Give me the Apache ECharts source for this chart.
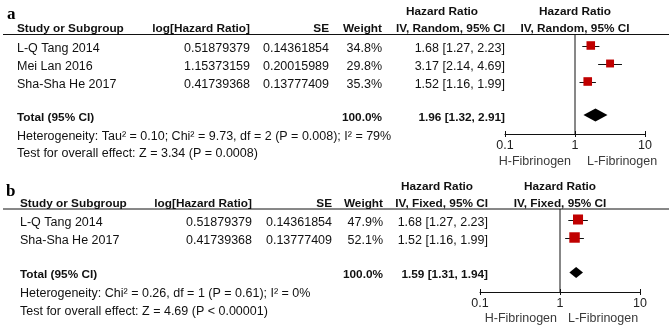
<!DOCTYPE html>
<html><head><meta charset="utf-8">
<script src="https://cdn.jsdelivr.net/npm/echarts@6/dist/echarts.min.js"></script>
<style>html,body{margin:0;padding:0;background:#fff}#c{width:669px;height:329px}</style>
</head><body><div id="c"></div>
<script>
// ---------- data ----------
const panelLetters = ['a', 'b'];
const headerStudy = 'Study or Subgroup';
const headerLog = 'log[Hazard Ratio]';
const headerSE = 'SE';
const headerWeight = 'Weight';
const headerHR = 'Hazard Ratio';
const methodA = 'IV, Random, 95% CI';
const methodB = 'IV, Fixed, 95% CI';

const studiesA = ['L-Q Tang 2014', 'Mei Lan 2016', 'Sha-Sha He 2017'];
const logHrA = ['0.51879379', '1.15373159', '0.41739368'];
const seA = ['0.14361854', '0.20015989', '0.13777409'];
const weightA = [34.8, 29.8, 35.3];
const hrA = [1.68, 3.17, 1.52];
const lowA = [1.27, 2.14, 1.16];
const highA = [2.23, 4.69, 1.99];
const totalA = [1.96, 1.32, 2.91];
const hetA = 'Heterogeneity: Tau\u00b2 = 0.10; Chi\u00b2 = 9.73, df = 2 (P = 0.008); I\u00b2 = 79%';
const testA = 'Test for overall effect: Z = 3.34 (P = 0.0008)';

const studiesB = ['L-Q Tang 2014', 'Sha-Sha He 2017'];
const logHrB = ['0.51879379', '0.41739368'];
const seB = ['0.14361854', '0.13777409'];
const weightB = [47.9, 52.1];
const hrB = [1.68, 1.52];
const lowB = [1.27, 1.16];
const highB = [2.23, 1.99];
const totalB = [1.59, 1.31, 1.94];
const hetB = 'Heterogeneity: Chi\u00b2 = 0.26, df = 1 (P = 0.61); I\u00b2 = 0%';
const testB = 'Test for overall effect: Z = 4.69 (P < 0.00001)';

const totalLabel = 'Total (95% CI)';
const totalWeight = '100.0%';
const nullEffect = 1;
const axisTicks = [0.1, 1, 10];
const axisTickLabels = ['0.1', '1', '10'];
const favourLeft = 'H-Fibrinogen';
const favourRight = 'L-Fibrinogen';

// ---------- layout ----------
const ROW_PX = 18;
const layouts = [
  { gridLeft: 505, gridWidth: 140, gridTop: 34, gridHeight: 100, row0: 11.5, totalRow: 3.86,
    colStudy: 17, colLog: 250, colSE: 329, colWeight: 382, colHR: 505, hrHeaderCenter: 442,
    forestCenter: 575, header1Y: 12, header2Y: 29, lineY: 34.5, letterX: 7, letterY: 14.5,
    favY: 162, favLeftRight: 571, favRightLeft: 587, diamondHalf: 6.5, sqK: 1.45 },
  { gridLeft: 480, gridWidth: 160, gridTop: 209, gridHeight: 83, row0: 10.5, totalRow: 2.94,
    colStudy: 20, colLog: 252, colSE: 332, colWeight: 383, colHR: 488, hrHeaderCenter: 437,
    forestCenter: 560, header1Y: 187, header2Y: 204, lineY: 209, letterX: 6, letterY: 191.5,
    favY: 318.5, favLeftRight: 557, favRightLeft: 568, diamondHalf: 5.5, sqK: 1.45 }
];

const panels = [
  { studies: studiesA, logHr: logHrA, se: seA, weight: weightA, hr: hrA, low: lowA, high: highA,
    total: totalA, het: hetA, test: testA, method: methodA },
  { studies: studiesB, logHr: logHrB, se: seB, weight: weightB, hr: hrB, low: lowB, high: highB,
    total: totalB, het: hetB, test: testB, method: methodB }
];

const FONT = '"Liberation Sans", Arial, sans-serif';
const REG = '12.5px ' + FONT;
const BOLD = 'bold 11.8px ' + FONT;
const TXT = '#111';

const fmtCI = (v, l, h) => v.toFixed(2) + ' [' + l.toFixed(2) + ', ' + h.toFixed(2) + ']';

const chart = echarts.init(document.getElementById('c'), null, { renderer: 'canvas' });

const grids = [], xAxes = [], yAxes = [], series = [];
layouts.forEach((L, p) => {
  grids.push({ left: L.gridLeft, top: L.gridTop, width: L.gridWidth, height: L.gridHeight, containLabel: false });
  const yMin = -L.row0 / ROW_PX;
  yAxes.push({ type: 'value', gridIndex: p, inverse: true, min: yMin, max: yMin + L.gridHeight / ROW_PX, show: false });
  const tickFmt = v => { const i = axisTicks.findIndex(t => Math.abs(t - v) < 1e-9); return i >= 0 ? axisTickLabels[i] : ''; };
  xAxes.push({ type: 'log', logBase: 10, gridIndex: p, min: 0.1, max: 10, position: 'bottom',
    axisLine: { show: true, onZero: false, lineStyle: { color: '#111', width: 1 } },
    axisTick: { show: true, length: 3, lineStyle: { color: '#111', width: 1 } },
    axisLabel: { show: true, formatter: tickFmt, color: '#222', fontSize: 12.5, fontFamily: FONT, margin: 5 },
    splitLine: { show: false } });
  xAxes.push({ type: 'log', logBase: 10, gridIndex: p, min: 0.1, max: 10, position: 'bottom',
    axisLine: { show: false, onZero: false }, axisTick: { show: true, inside: true, length: 3, lineStyle: { color: '#111', width: 1 } },
    axisLabel: { show: false }, splitLine: { show: false } });
});

panels.forEach((P, p) => {
  const L = layouts[p];
  const yAx = yAxes[p];
  // vertical line of no effect
  series.push({
    type: 'line', xAxisIndex: p * 2, yAxisIndex: p, silent: true, symbol: 'none',
    data: [[nullEffect, yAx.min], [nullEffect, yAx.max]],
    lineStyle: { color: '#111', width: 1 }
  });
  const studyData = P.studies.map((s, i) => [P.hr[i], i, P.low[i], P.high[i], P.weight[i]]);
  series.push({
    type: 'custom', xAxisIndex: p * 2, yAxisIndex: p, data: studyData,
    encode: { x: [0, 2, 3], y: 1 }, silent: true,
    renderItem: (params, api) => {
      const c = api.coord([api.value(0), api.value(1)]);
      const lo = api.coord([api.value(2), api.value(1)]);
      const hi = api.coord([api.value(3), api.value(1)]);
      const s = Math.sqrt(api.value(4)) * L.sqK;
      const y = Math.round(c[1]) + 0.5;
      return { type: 'group', children: [
        { type: 'line', shape: { x1: lo[0], y1: y, x2: hi[0], y2: y }, style: { stroke: '#111', lineWidth: 1 } },
        { type: 'rect', shape: { x: c[0] - s / 2, y: c[1] - s / 2, width: s, height: s }, style: { fill: '#C00000' } }
      ] };
    }
  });
  series.push({
    type: 'custom', xAxisIndex: p * 2, yAxisIndex: p, silent: true,
    data: [[P.total[0], L.totalRow, P.total[1], P.total[2]]],
    encode: { x: [0, 2, 3], y: 1 },
    renderItem: (params, api) => {
      const c = api.coord([api.value(0), api.value(1)]);
      const lo = api.coord([api.value(2), api.value(1)]);
      const hi = api.coord([api.value(3), api.value(1)]);
      const h = L.diamondHalf;
      return { type: 'polygon', shape: { points: [[lo[0], c[1]], [c[0], c[1] - h], [hi[0], c[1]], [c[0], c[1] + h]] },
        style: { fill: '#000' } };
    }
  });
});

chart.setOption({ animation: false, backgroundColor: '#fff', grid: grids, xAxis: xAxes, yAxis: yAxes, series: series });

// ---------- table text ----------
const graphics = [];
function txt(text, x, y, font, align, fill) {
  graphics.push({ type: 'text', silent: true, style: { text: text, x: x, y: y, font: font,
    textAlign: align, align: align, textVerticalAlign: 'middle', verticalAlign: 'middle', fill: fill || TXT } });
}
panels.forEach((P, p) => {
  const L = layouts[p];
  const rowY = r => chart.convertToPixel({ yAxisIndex: p }, r) + 2.7;
  txt(panelLetters[p], L.letterX, L.letterY, 'bold 17px "Liberation Serif", "Times New Roman", serif', 'left', '#000');
  txt(headerStudy, L.colStudy, L.header2Y, BOLD, 'left');
  txt(headerLog, L.colLog, L.header2Y, BOLD, 'right');
  txt(headerSE, L.colSE, L.header2Y, BOLD, 'right');
  txt(headerWeight, L.colWeight, L.header2Y, BOLD, 'right');
  txt(headerHR, L.hrHeaderCenter, L.header1Y, BOLD, 'center');
  txt(P.method, L.colHR, L.header2Y, BOLD, 'right');
  txt(headerHR, L.forestCenter, L.header1Y, BOLD, 'center');
  txt(P.method, L.forestCenter, L.header2Y, BOLD, 'center');
  graphics.push({ type: 'line', silent: true, shape: { x1: 3, y1: L.lineY, x2: 669, y2: L.lineY },
    style: { stroke: '#111', lineWidth: 1 } });
  P.studies.forEach((s, i) => {
    const y = rowY(i);
    txt(s, L.colStudy, y, REG, 'left');
    txt(P.logHr[i], L.colLog, y, REG, 'right');
    txt(P.se[i], L.colSE, y, REG, 'right');
    txt(P.weight[i].toFixed(1) + '%', L.colWeight, y, REG, 'right');
    txt(fmtCI(P.hr[i], P.low[i], P.high[i]), L.colHR, y, REG, 'right');
  });
  const ty = rowY(L.totalRow);
  txt(totalLabel, L.colStudy, ty, BOLD, 'left');
  txt(totalWeight, L.colWeight, ty, BOLD, 'right');
  txt(fmtCI(P.total[0], P.total[1], P.total[2]), L.colHR, ty, BOLD, 'right');
  txt(P.het, L.colStudy, ty + 18.5, REG, 'left');
  txt(P.test, L.colStudy, ty + 36, REG, 'left');
  txt(favourLeft, L.favLeftRight, L.favY, REG, 'right', '#3a3a3a');
  txt(favourRight, L.favRightLeft, L.favY, REG, 'left', '#3a3a3a');
});
chart.setOption({ graphic: graphics });
</script></body></html>
